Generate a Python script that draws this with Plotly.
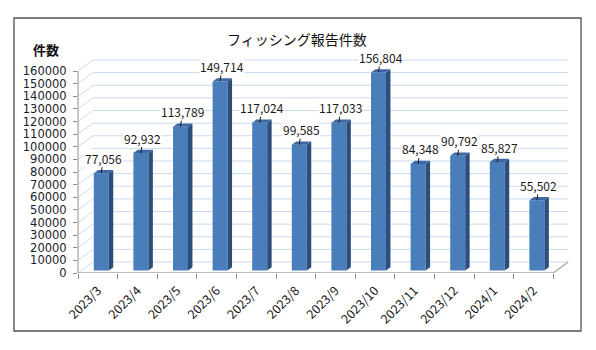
import plotly.graph_objects as go

# Monthly phishing report counts
months = ["2023/3", "2023/4", "2023/5", "2023/6", "2023/7", "2023/8",
          "2023/9", "2023/10", "2023/11", "2023/12", "2024/1", "2024/2"]
counts = [77056, 92932, 113789, 149714, 117024, 99585,
          117033, 156804, 84348, 90792, 85827, 55502]
y_ticks = list(range(0, 160001, 10000))
y_ticktext = [str(v) for v in y_ticks]

# ---- page / plot geometry (pixels) ----
W, H = 596, 350
PLOT_L, PLOT_R, PLOT_T, PLOT_B = 78, 572, 56, 273
CAT_PX = 39.6                    # width of one category
Y_PX = 202 / 160000              # pixels per count
X0 = -0.5
X1 = X0 + (PLOT_R - PLOT_L) / CAT_PX
Y1 = (PLOT_B - PLOT_T) / Y_PX

# depth of the pseudo-3D box, converted to data units
DX = 15 / CAT_PX
DY = 11 / Y_PX
F_FRONT, F_BACK = 0.233, 0.53    # bar front / back depth fractions
BAR_W = 15 / CAT_PX

FRONT_C = "#4A7EBB"
SIDE_C = "#2C4E7C"
TOP_C = "#3D68A3"
GRID_C = "#C9DBF0"
AXIS_C = "#8C8C8C"
TEXT_C = "#1A1A1A"
FONT = "Noto Sans CJK JP"


def px_x(px):
    return (px - PLOT_L) / (PLOT_R - PLOT_L)


def px_y(py):
    return (PLOT_B - py) / (PLOT_B - PLOT_T)


n = len(months)
xs = list(range(n))
fig = go.Figure()

# front faces
fig.add_trace(go.Bar(
    x=[i + F_FRONT * DX for i in xs], y=counts, base=F_FRONT * DY,
    width=BAR_W, marker=dict(color=FRONT_C, line=dict(width=0)),
    hoverinfo="skip", showlegend=False))

dd = (F_BACK - F_FRONT) * DX
dh = (F_BACK - F_FRONT) * DY
for i, v in zip(xs, counts):
    xl = i - BAR_W / 2 + F_FRONT * DX
    xr = i + BAR_W / 2 + F_FRONT * DX
    yb = F_FRONT * DY
    yt = v + F_FRONT * DY
    # right side face
    fig.add_trace(go.Scatter(
        x=[xr, xr + dd, xr + dd, xr, xr], y=[yb, yb + dh, yt + dh, yt, yb],
        fill="toself", fillcolor=SIDE_C, mode="lines", line=dict(width=0),
        hoverinfo="skip", showlegend=False))
    # top face
    fig.add_trace(go.Scatter(
        x=[xl, xr, xr + dd, xl + dd, xl], y=[yt, yt, yt + dh, yt + dh, yt],
        fill="toself", fillcolor=TOP_C, mode="lines", line=dict(width=0),
        hoverinfo="skip", showlegend=False))

shapes = []
# back wall gridlines and side wall diagonals
for v in y_ticks:
    shapes.append(dict(type="line", xref="x", yref="y", layer="below",
                       x0=X0 + DX, x1=X0 + n + DX, y0=v + DY, y1=v + DY,
                       line=dict(color=GRID_C, width=1)))
    shapes.append(dict(type="line", xref="x", yref="y", layer="below",
                       x0=X0, x1=X0 + DX, y0=v, y1=v + DY,
                       line=dict(color=GRID_C, width=1)))
# floor edges
shapes.append(dict(type="line", xref="x", yref="y", layer="below",
                   x0=X0, x1=X0 + n, y0=0, y1=0,
                   line=dict(color="#A6A6A6", width=1.5)))
shapes.append(dict(type="line", xref="x", yref="y", layer="below",
                   x0=X0 + n, x1=X0 + n + DX, y0=0, y1=DY,
                   line=dict(color="#A6A6A6", width=1.2)))
# vertical value axis line
shapes.append(dict(type="line", xref="paper", yref="y",
                   x0=0, x1=0, y0=0, y1=y_ticks[-1],
                   line=dict(color=AXIS_C, width=1)))
# outer frame
shapes.append(dict(type="rect", xref="paper", yref="paper",
                   x0=px_x(14), x1=px_x(581), y0=px_y(331), y1=px_y(18),
                   line=dict(color="#505050", width=1.3)))

annotations = []
for i, v in zip(xs, counts):
    annotations.append(dict(
        x=i + F_FRONT * DX, y=v + F_FRONT * DY, xref="x", yref="y",
        text=f"{v:,}", showarrow=True, arrowhead=0, arrowwidth=1,
        arrowcolor=TEXT_C, ax=2, ay=-15, bgcolor="white", borderpad=0,
        font=dict(family=FONT, size=12, color=TEXT_C)))

annotations.append(dict(
    x=px_x(297), y=px_y(38.5), xref="paper", yref="paper",
    xanchor="center", yanchor="middle",
    text="フィッシング報告件数", showarrow=False,
    font=dict(family=FONT, size=14, color="#111111")))
annotations.append(dict(
    x=px_x(46), y=px_y(49), xref="paper", yref="paper",
    xanchor="center", yanchor="middle",
    text="<b>件数</b>", showarrow=False,
    font=dict(family=FONT, size=13, color="#111111")))

fig.update_layout(
    width=W, height=H,
    margin=dict(l=PLOT_L, r=W - PLOT_R, t=PLOT_T, b=H - PLOT_B),
    paper_bgcolor="white", plot_bgcolor="white",
    showlegend=False, shapes=shapes, annotations=annotations,
    xaxis=dict(range=[X0, X1], tickvals=xs, ticktext=months, tickangle=-45,
               ticks="", showgrid=False, zeroline=False, showline=False,
               ticklabelstandoff=7,
               tickfont=dict(family=FONT, size=12.5, color=TEXT_C),
               minor=dict(tickvals=[X0 + k for k in range(n + 1)],
                          ticks="outside", ticklen=5, tickcolor=AXIS_C,
                          showgrid=False)),
    yaxis=dict(range=[0, Y1], tickvals=y_ticks, ticktext=y_ticktext,
               ticks="outside", ticklen=4,
               tickcolor=AXIS_C, showgrid=False, zeroline=False,
               showline=False, ticklabelstandoff=4,
               tickfont=dict(family="DejaVu Sans", size=11.5,
                             color="#1C1C2C")),
)

fig.write_html("out.html")
